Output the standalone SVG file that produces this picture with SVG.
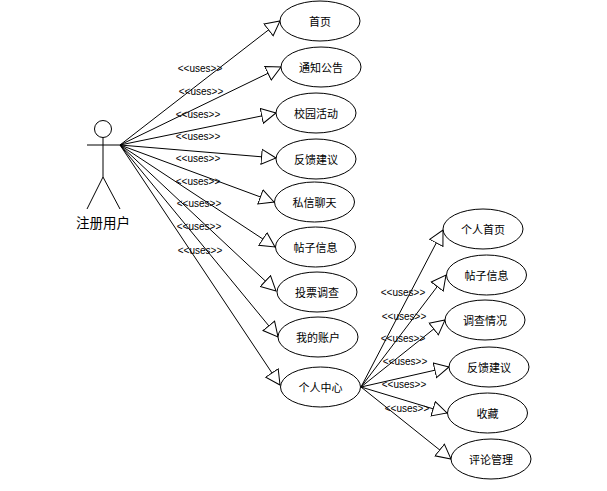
<svg xmlns="http://www.w3.org/2000/svg" width="607" height="491" viewBox="0 0 607 491">
<style>
.bg{fill:#fff}
.u{fill:#fff;stroke:#000;stroke-width:1}
.c line{stroke:#000;stroke-width:1;marker-end:url(#tri)}
.a{fill:none;stroke:#000;stroke-width:1}
text{fill:#000;text-anchor:middle;font-family:"Liberation Sans","Noto Sans CJK SC",sans-serif}
.t{font-size:11px}
.l{font-size:10px}
.n{font-size:13.5px}
</style>
<defs>
<marker id="tri" markerUnits="userSpaceOnUse" markerWidth="17" markerHeight="18" refX="15" refY="8.5" orient="auto">
<path d="M0.5 1L15 8.5L0.5 16Z" fill="#fff" stroke="#000" stroke-width="1"/>
</marker>
</defs>
<rect class="bg" width="607" height="491"/>
<g id="connectors" class="c">
<line x1="120" y1="145" x2="280" y2="21"/>
<line x1="120" y1="145" x2="281" y2="67"/>
<line x1="120" y1="145" x2="276" y2="113"/>
<line x1="120" y1="145" x2="276" y2="158"/>
<line x1="120" y1="145" x2="274" y2="202"/>
<line x1="120" y1="145" x2="275" y2="247"/>
<line x1="120" y1="145" x2="276" y2="291"/>
<line x1="120" y1="145" x2="278" y2="337"/>
<line x1="120" y1="145" x2="280" y2="385"/>
<line x1="361" y1="387" x2="443" y2="230"/>
<line x1="361" y1="387" x2="446" y2="275"/>
<line x1="361" y1="387" x2="445" y2="320"/>
<line x1="361" y1="387" x2="449" y2="367"/>
<line x1="361" y1="387" x2="447" y2="413"/>
<line x1="361" y1="387" x2="451" y2="459"/>
</g>
<g id="labels" class="l">
<text x="200" y="72">&lt;&lt;uses&gt;&gt;</text>
<text x="201" y="95">&lt;&lt;uses&gt;&gt;</text>
<text x="198" y="118">&lt;&lt;uses&gt;&gt;</text>
<text x="198" y="140">&lt;&lt;uses&gt;&gt;</text>
<text x="198" y="162">&lt;&lt;uses&gt;&gt;</text>
<text x="198" y="185">&lt;&lt;uses&gt;&gt;</text>
<text x="199" y="207">&lt;&lt;uses&gt;&gt;</text>
<text x="199" y="230">&lt;&lt;uses&gt;&gt;</text>
<text x="200" y="254">&lt;&lt;uses&gt;&gt;</text>
<text x="403" y="296">&lt;&lt;uses&gt;&gt;</text>
<text x="404" y="320">&lt;&lt;uses&gt;&gt;</text>
<text x="403" y="342">&lt;&lt;uses&gt;&gt;</text>
<text x="405" y="365">&lt;&lt;uses&gt;&gt;</text>
<text x="404" y="388">&lt;&lt;uses&gt;&gt;</text>
<text x="407" y="412">&lt;&lt;uses&gt;&gt;</text>
</g>
<g id="actor">
<circle class="a" cx="103" cy="129" r="8.5"/>
<path class="a" d="M87 145H120M103 137.500V177M103 177L87 209M103 177L120 209"/>
<text class="n" x="103" y="228">注册用户</text>
</g>
<g id="uc1"><ellipse class="u" cx="320" cy="21" rx="40" ry="20"/><text class="t" x="320" y="26">首页</text></g>
<g id="uc2"><ellipse class="u" cx="321" cy="67" rx="40" ry="20"/><text class="t" x="321" y="72">通知公告</text></g>
<g id="uc3"><ellipse class="u" cx="316" cy="113" rx="40" ry="20"/><text class="t" x="316" y="118">校园活动</text></g>
<g id="uc4"><ellipse class="u" cx="316" cy="159" rx="40" ry="20"/><text class="t" x="316" y="164">反馈建议</text></g>
<g id="uc5"><ellipse class="u" cx="314.500" cy="202" rx="40" ry="20"/><text class="t" x="314.500" y="207">私信聊天</text></g>
<g id="uc6"><ellipse class="u" cx="315.500" cy="247" rx="40" ry="20"/><text class="t" x="315.500" y="252">帖子信息</text></g>
<g id="uc7"><ellipse class="u" cx="317" cy="292" rx="40" ry="20"/><text class="t" x="317" y="297">投票调查</text></g>
<g id="uc8"><ellipse class="u" cx="318" cy="337" rx="40" ry="20"/><text class="t" x="318" y="342">我的账户</text></g>
<g id="uc9"><ellipse class="u" cx="320.500" cy="387" rx="40" ry="20"/><text class="t" x="320.500" y="392">个人中心</text></g>
<g id="uc10"><ellipse class="u" cx="483" cy="229" rx="40" ry="20"/><text class="t" x="483" y="234">个人首页</text></g>
<g id="uc11"><ellipse class="u" cx="486.500" cy="275" rx="40" ry="20"/><text class="t" x="486.500" y="280">帖子信息</text></g>
<g id="uc12"><ellipse class="u" cx="485" cy="320" rx="40" ry="20"/><text class="t" x="485" y="325">调查情况</text></g>
<g id="uc13"><ellipse class="u" cx="489" cy="367" rx="40" ry="20"/><text class="t" x="489" y="372">反馈建议</text></g>
<g id="uc14"><ellipse class="u" cx="487.500" cy="413" rx="40" ry="20"/><text class="t" x="487.500" y="418">收藏</text></g>
<g id="uc15"><ellipse class="u" cx="491" cy="459" rx="40" ry="20"/><text class="t" x="491" y="464">评论管理</text></g>
</svg>
